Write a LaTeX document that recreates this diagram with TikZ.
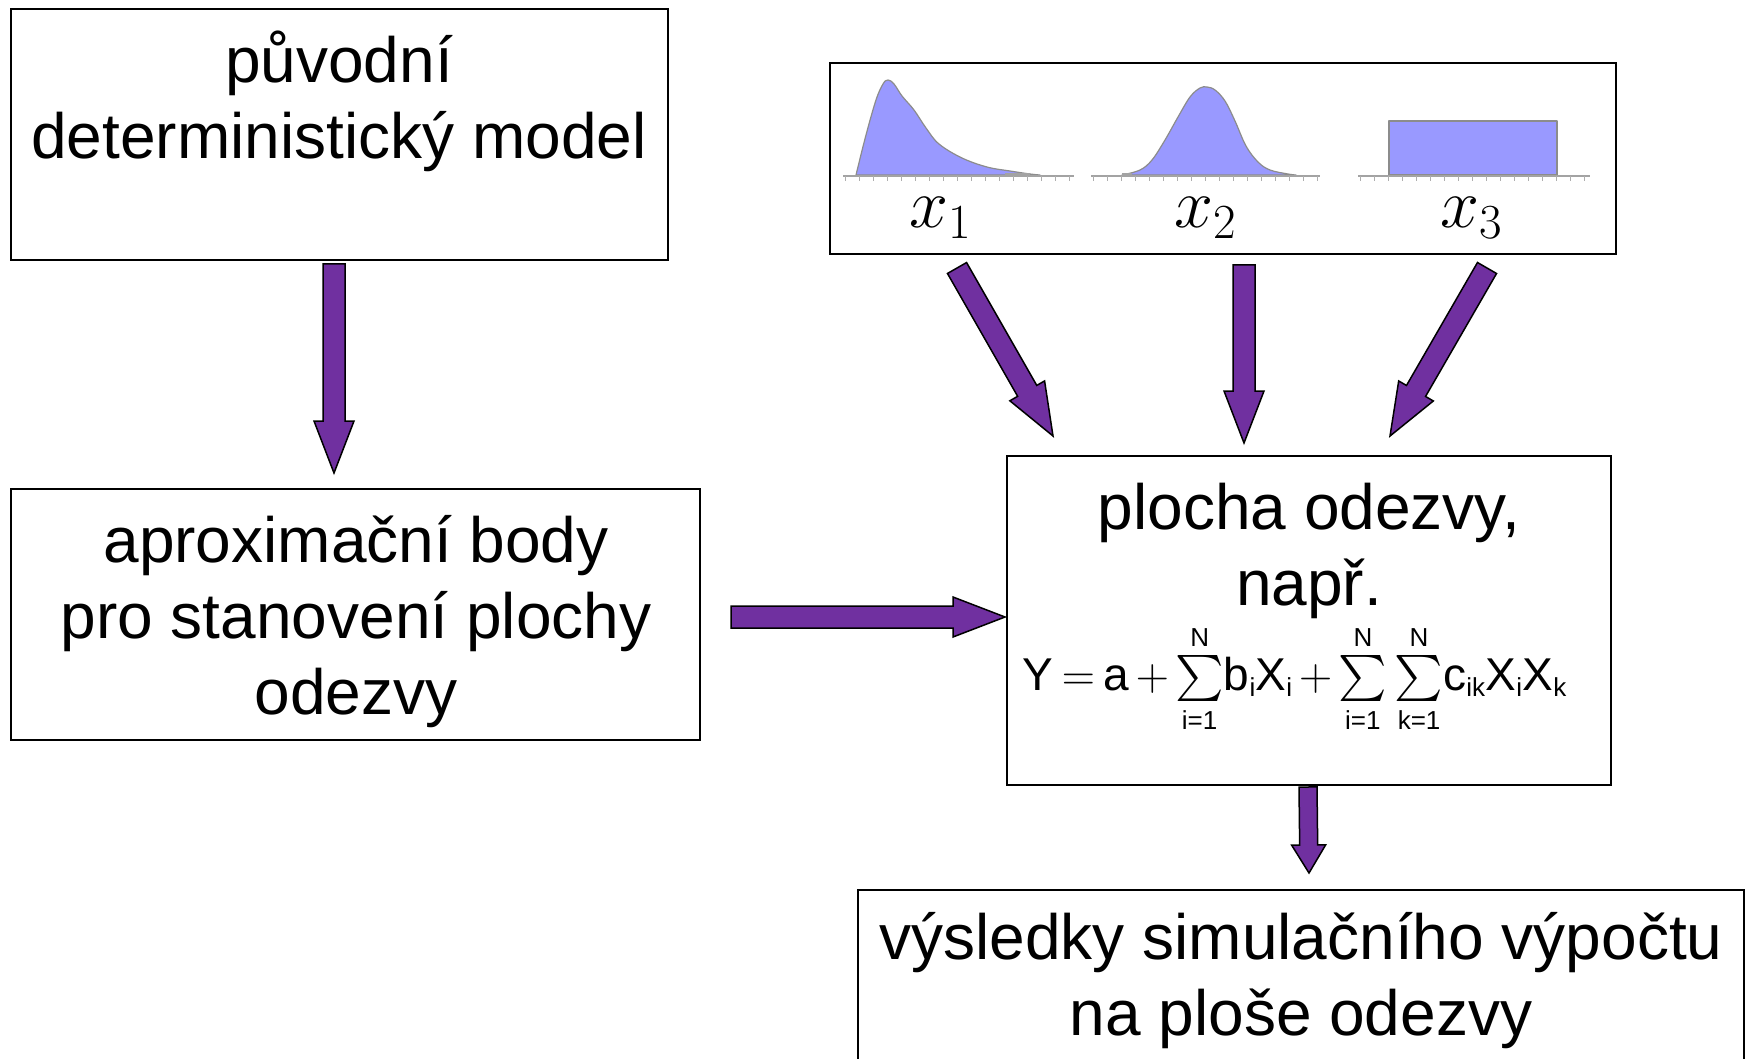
\RequirePackage{fix-cm}
\documentclass[tikz,border=0pt]{standalone}
\usepackage{amsmath}
\usepackage{fontspec}
\setmainfont{Liberation Sans}
\usetikzlibrary{calc}
\DeclareFontShape{OMX}{cmex}{m}{n}{<->cmex10}{}
\DeclareMathSizes{46}{46}{26}{20}
\definecolor{arrowpurple}{HTML}{7030A0}
\definecolor{distfill}{HTML}{9999FF}
\definecolor{distline}{HTML}{8C8C8C}
\tikzset{
  box/.style={draw=black, line width=1.8pt, fill=white, inner sep=0pt, outer sep=0pt, anchor=north west},
  txt/.style={inner sep=0pt, font=\fontsize{64}{76}\selectfont, anchor=base},
  varlabel/.style={inner sep=0pt, font=\fontsize{70}{80}\selectfont, anchor=base},
  curve/.style={draw=distline, fill=distfill, line width=1.2pt, line join=round},
  axisline/.style={draw=distline!80, line width=1.6pt},
  blockarrow/.style n args={3}{draw=black, fill=arrowpurple, line width=1.5pt, line join=miter,
    to path={
      ($(\tikztotarget)!#3!(\tikztostart)$) coordinate (bahead)
      ($(\tikztostart)!#1!90:(\tikztotarget)$)
      -- ($(bahead)!#1!90:(\tikztotarget)$)
      -- ($(bahead)!#2!90:(\tikztotarget)$)
      -- (\tikztotarget)
      -- ($(bahead)!#2!-90:(\tikztotarget)$)
      -- ($(bahead)!#1!-90:(\tikztotarget)$)
      -- ($(\tikztostart)!#1!-90:(\tikztotarget)$)
      -- cycle
    }},
}
\begin{document}
\begin{tikzpicture}[x=1pt,y=-1pt]
\useasboundingbox (0,0) rectangle (1745,1059);
\fill[white] (0,0) rectangle (1745,1059);

% boxes
\node[box, minimum width=657pt, minimum height=251pt] (b1) at (11,9) {};
\node[box, minimum width=689pt, minimum height=251pt] (b2) at (11,489) {};
\node[box, minimum width=786pt, minimum height=191pt] (dist) at (830,63) {};
\node[box, minimum width=604pt, minimum height=329pt] (b4) at (1007,456) {};
\node[box, minimum width=886pt, minimum height=190pt] (b5) at (858,890) {};

% texts
\node[txt] (t1) at (339,83) {\begin{tabular}[t]{@{}c@{}}původní\\deterministický model\end{tabular}};
\node[txt] (t2) at (356,562) {\begin{tabular}[t]{@{}c@{}}aproximační body\\pro stanovení plochy\\odezvy\end{tabular}};
\node[txt] (t4) at (1309,529) {\begin{tabular}[t]{@{}c@{}}plocha odezvy,\\např.\end{tabular}};
\node[inner sep=0pt, anchor=base west, font=\fontsize{46}{55}\selectfont] (formula) at (1022,690)
  {\medmuskip=2.5mu\thickmuskip=3.5mu$\text{Y} = \text{a} + \sum\limits_{\text{i=1}}^{\text{N}}\!\text{b}_{\text{i}}\text{X}_{\text{i}}
   + \sum\limits_{\text{i=1}}^{\text{N}}\sum\limits_{\text{k=1}}^{\text{N}}\!\text{c}_{\text{ik}}\text{X}_{\text{i}}\text{X}_{\text{k}}$};
\node[txt] (t5) at (1301,959) {\begin{tabular}[t]{@{}c@{}}výsledky simulačního výpočtu\\na ploše odezvy\end{tabular}};

% distributions
\draw[curve] plot[smooth, tension=0.6] coordinates {(856,175) (866,135) (876,100) (883,84) (888,80) (894,84) (902,96) (914,110) (926,128) (939,144) (962,158) (987,167) (1010,171) (1030,174) (1040,175)} -- cycle;
\draw[curve] plot[smooth, tension=0.6] coordinates {(1122,175) (1140,170) (1152,160) (1165,140) (1178,117) (1190,97) (1200,88) (1207,87) (1215,90) (1225,101) (1235,121) (1246,146) (1258,162) (1270,170) (1288,174) (1296,175)} -- cycle;
\draw[curve] (1389,175) rectangle (1557,121);
\draw[axisline] (843,176) -- (1074,176);
\draw[axisline] (1091,176) -- (1320,176);
\draw[axisline] (1358,176) -- (1590,176);
\draw[distline!80, line width=4pt] (1005,175) -- (1030,175);
\draw[distline!80, line width=4pt] (1122,175) -- (1132,175);
\foreach \x in {845,859,...,1074} \draw[distline!70, line width=0.8pt] (\x,176) -- (\x,181);
\foreach \x in {1093,1107,...,1320} \draw[distline!70, line width=0.8pt] (\x,176) -- (\x,181);
\foreach \x in {1360,1374,...,1590} \draw[distline!70, line width=0.8pt] (\x,176) -- (\x,181);
\node[varlabel] (x1) at (940,228) {$x_1$};
\node[varlabel] (x2) at (1205,228) {$x_2$};
\node[varlabel] (x3) at (1471,228) {$x_3$};

% arrows
\path[blockarrow={11pt}{20pt}{52pt}] ([xshift=-5.5pt,yshift=-4pt]b1.south) to ([xshift=-21.5pt,yshift=16pt]b2.north);
\path[blockarrow={11pt}{20pt}{52pt}] ([xshift=31pt,yshift=-2.5pt]b2.east) to ([xshift=-2pt,yshift=3.5pt]b4.west);
\path[blockarrow={11pt}{20pt}{52pt}] ([xshift=-266pt,yshift=-14pt]dist.south) to ([xshift=-256pt,yshift=20pt]b4.north);
\path[blockarrow={11pt}{20pt}{52pt}] ([xshift=21pt,yshift=-11pt]dist.south) to ([xshift=-65pt,yshift=13pt]b4.north);
\path[blockarrow={11pt}{20pt}{52pt}] ([xshift=264pt,yshift=-14pt]dist.south) to ([xshift=81pt,yshift=20pt]b4.north);
\path[blockarrow={9pt}{17pt}{28pt}] ([xshift=-1pt,yshift=-2pt]b4.south) to ([xshift=8pt,yshift=17pt]b5.north);
\end{tikzpicture}
\end{document}
